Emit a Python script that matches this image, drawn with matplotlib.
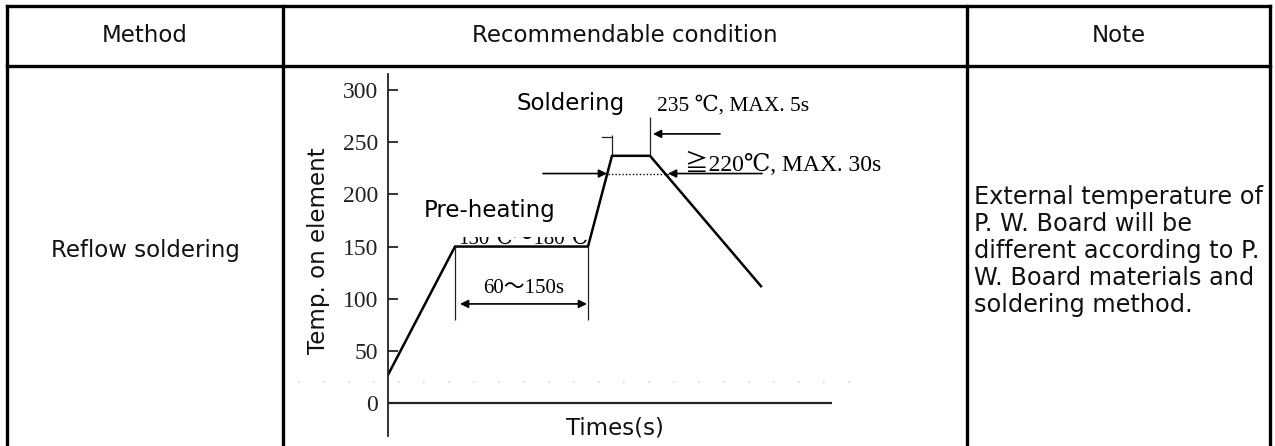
import matplotlib
matplotlib.use("Agg")
import matplotlib.pyplot as plt
from matplotlib.patches import Rectangle

# table text
headers = ["Method", "Recommendable condition", "Note"]
method = "Reflow soldering"
note_lines = ["External temperature of", "P. W. Board will be",
              "different according to P.", "W. Board materials and",
              "soldering method."]

# reflow profile (time in arbitrary units, temperature in degC)
times = [0, 67, 200, 224, 262, 373]
temps = [27, 150, 150, 237, 237, 112]
yticks = [0, 50, 100, 150, 200, 250, 300]
level_220 = 220

SANS = "DejaVu Sans"
SERIF = ["Liberation Serif", "DejaVu Serif", "Noto Sans CJK JP"]
FS = 16.5

W, H = 1275, 446
fig = plt.figure(figsize=(W / 100, H / 100), dpi=100)

# background axes in pixel units for the table
bg = fig.add_axes([0, 0, 1, 1])
bg.set_xlim(0, W)
bg.set_ylim(H, 0)
bg.axis("off")

col_x = [7, 283, 967, 1270]
lw_t = 2.4
bg.plot([col_x[0], col_x[-1]], [6, 6], color="black", lw=lw_t, solid_capstyle="projecting")
bg.plot([col_x[0], col_x[-1]], [66, 66], color="black", lw=lw_t, solid_capstyle="projecting")
for x in col_x:
    bg.plot([x, x], [6, H], color="black", lw=lw_t, solid_capstyle="projecting")

for i, h in enumerate(headers):
    bg.text((col_x[i] + col_x[i + 1]) / 2, 36, h, ha="center", va="center",
            fontsize=FS, family=SANS, color="#111111")
bg.text((col_x[0] + col_x[1]) / 2, 250, method, ha="center", va="center",
        fontsize=FS, family=SANS, color="#111111")
for i, line in enumerate(note_lines):
    bg.text(974, 197 + 27 * i, line, ha="left", va="center",
            fontsize=17.3, family=SANS, color="#111111")

bg.text(318, 251, "Temp. on element", rotation=90, ha="center", va="center",
        fontsize=FS, family=SANS, color="#111111")
bg.text(615, 428, "Times(s)", ha="center", va="center",
        fontsize=FS, family=SANS, color="#111111")

# chart axes placed over the middle column
x0, x1, ytop, ybot, y0px = 388, 832, 74, 446, 403
k = 1.043  # pixels per degree
ax = fig.add_axes([x0 / W, (H - ybot) / H, (x1 - x0) / W, (ybot - ytop) / H])
ax.set_xlim(0, x1 - x0)
ax.set_ylim((y0px - ybot) / k, (y0px - ytop) / k)
ax.patch.set_alpha(0)
for s in ["top", "right", "bottom"]:
    ax.spines[s].set_visible(False)
ax.spines["left"].set_bounds(-32, 315)
ax.spines["left"].set_linewidth(1.3)
ax.spines["left"].set_color("#222222")
ax.set_xticks([])
ax.set_yticks(yticks)
ax.tick_params(axis="y", direction="in", length=7, width=1.3, pad=7,
               labelsize=17, colors="#222222")
for lab in ax.get_yticklabels():
    lab.set_family(SERIF)

ax.axhline(0, color="#222222", lw=1.6)
ax.plot(times, temps, color="black", lw=1.8, solid_joinstyle="miter")

# faint scan dots
ax.plot([-90, 470], [20, 20], color="#d8d8d8", lw=1.2, ls=(0, (1, 14)), clip_on=False)

thin = dict(color="#222222", lw=0.9)
arrow = dict(arrowstyle="-|>", color="black", lw=1.2, shrinkA=0, shrinkB=0,
             mutation_scale=12)

# pre-heating window
ax.vlines([times[1], times[2]], 80, temps[1], **thin)
ax.annotate("", xy=(times[1] + 5, 95), xytext=(times[2] - 1, 95),
            arrowprops=dict(arrow, arrowstyle="<|-|>"))
ax.text((times[1] + times[2]) / 2 + 2, 110, "60～150s", ha="center", va="center",
        fontsize=15, family=SERIF)
t = ax.text((times[1] + times[2]) / 2 + 2, 153, "150℃～180℃", ha="center",
            va="baseline", fontsize=15, family=SERIF)
clip = Rectangle((40, 140), 200, 19.5, transform=ax.transData)
t.set_clip_path(clip)
t.set_clip_on(True)
ax.text(102, 185, "Pre-heating", ha="center", va="center", fontsize=FS, family=SANS)

# soldering window
ax.text(183, 287, "Soldering", ha="center", va="center", fontsize=FS, family=SANS)
ax.vlines(times[3], temps[3], 257, **thin)
ax.vlines(times[4], temps[4], 274, **thin)
ax.plot([times[3] - 10, times[3]], [255, 255], **thin)
ax.annotate("", xy=(times[4] + 3, 258), xytext=(332, 258), arrowprops=arrow)
ax.text(269, 285, "235 ℃, MAX. 5s", ha="left", va="center", fontsize=15.5, family=SERIF)

# 220 degC window
ax.plot([times[3] - 4, 285], [level_220, level_220], color="black", lw=1.0, ls=(0, (1, 1.5)))
ax.annotate("", xy=(219, level_220), xytext=(155, level_220), arrowprops=arrow)
ax.annotate("", xy=(280, level_220), xytext=(374, level_220), arrowprops=arrow)
ax.text(297, 222, "≧220℃, MAX. 30s", ha="left", va="baseline", fontsize=17, family=SERIF)

fig.savefig("out.png", dpi=100)
